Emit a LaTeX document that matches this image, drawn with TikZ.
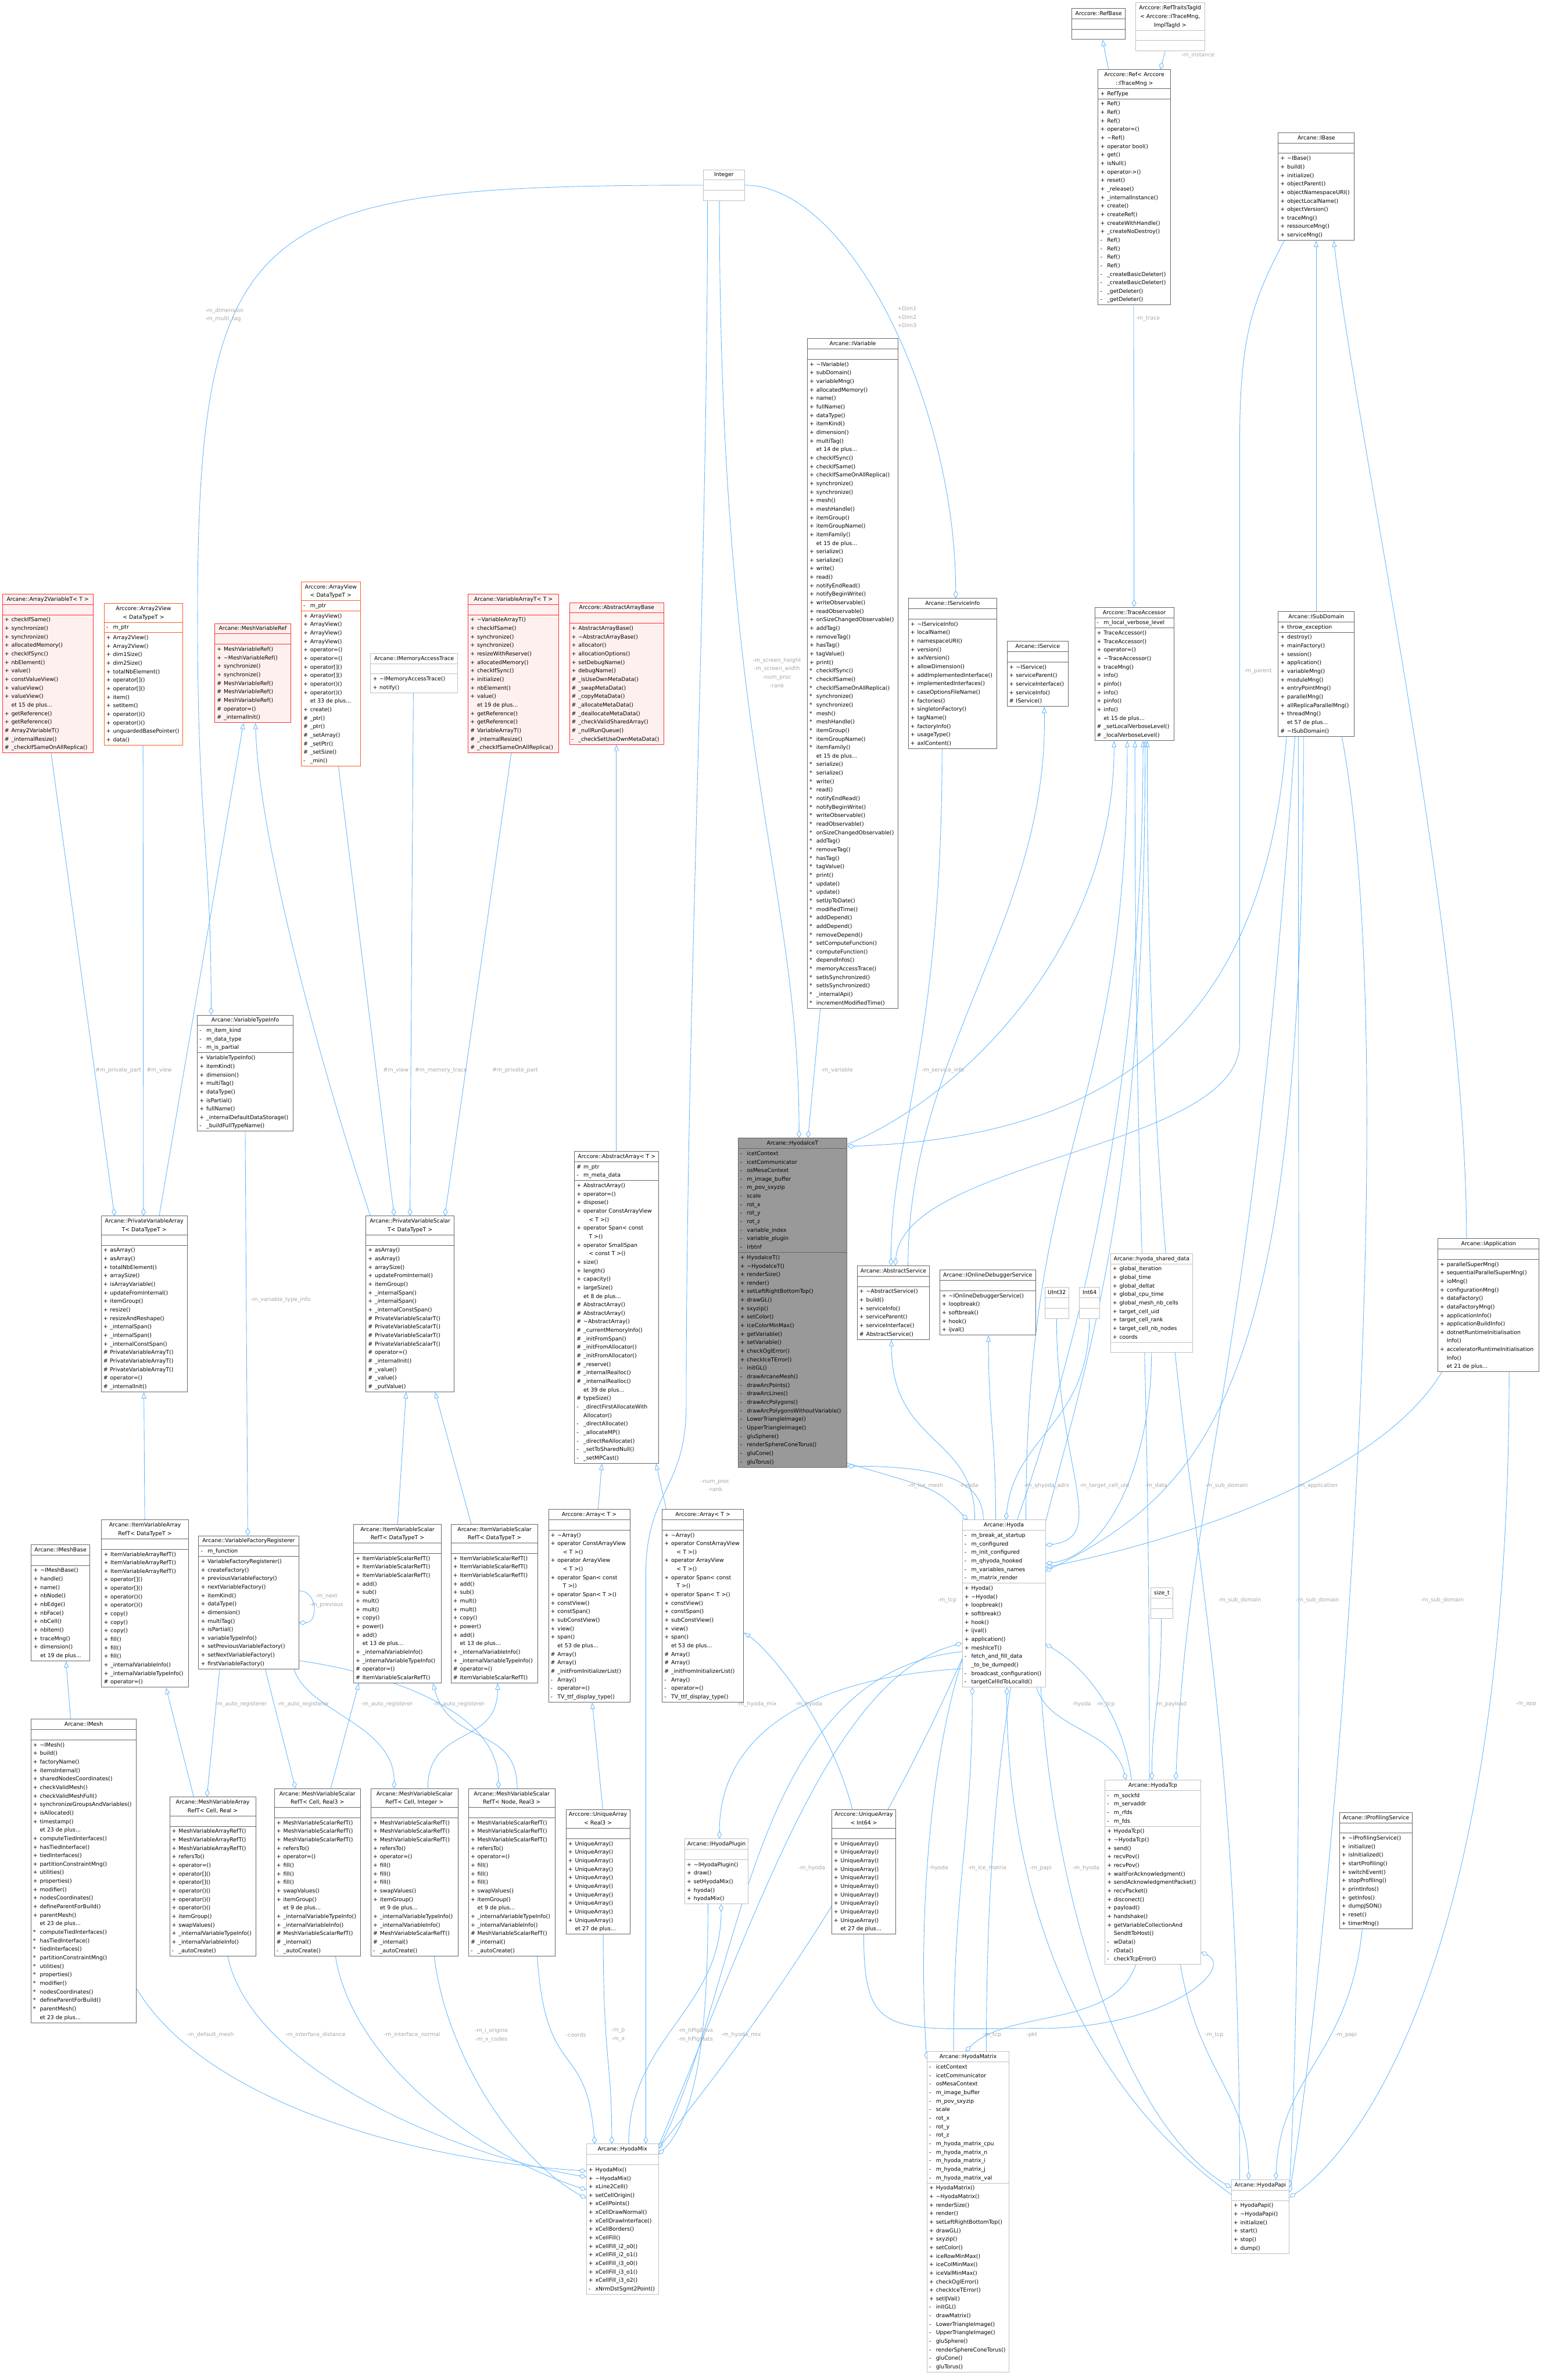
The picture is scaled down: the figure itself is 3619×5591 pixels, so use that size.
\documentclass[tikz,border=0pt]{standalone}
\usepackage{fontspec}
\setmainfont{DejaVu Sans}
\usetikzlibrary{shapes.multipart,arrows.meta}
\pgfdeclarelayer{back}
\pgfdeclarelayer{bg}
\pgfsetlayers{back,bg,main}
\definecolor{edgec}{HTML}{63B8FF}
\definecolor{lblc}{HTML}{A6A6A6}
\definecolor{bordc}{HTML}{666666}
\definecolor{lbordc}{HTML}{BFBFBF}
\definecolor{rbordc}{HTML}{FF3030}
\definecolor{rfillc}{HTML}{FFF0F0}
\definecolor{obordc}{HTML}{FF5A1F}
\definecolor{focusc}{HTML}{999999}
\newcommand\umlfont{\fontsize{12.8pt}{20pt}\selectfont}
\newcommand\tld{\textasciitilde}
\newcommand\xP{\makebox[16pt][l]{+}&}
\newcommand\xM{\makebox[16pt][l]{-}&}
\newcommand\xH{\makebox[16pt][l]{\#}&}
\newcommand\xS{\makebox[16pt][l]{*}&}
\newcommand\xE{&}
\newcommand\ttl[1]{\begin{tabular}{@{}c@{}}#1\end{tabular}}
\newcommand\mls[1]{\if\relax\detokenize{#1}\relax\strut\else\begin{tabular}{@{}l@{}l@{}}#1\end{tabular}\fi}
\newcommand\umlbox[8][]{\node[uml,#1,minimum width=#5pt] (#2) at (#3,#4) {\ttl{#6}\nodepart{two}\mls{#7}\nodepart{three}\mls{#8}};}
\newcommand\ivsM{\xP ItemVariableScalarRefT()\\ \xP ItemVariableScalarRefT()\\ \xP ItemVariableScalarRefT()\\ \xP add()\\ \xP sub()\\ \xP mult()\\ \xP mult()\\ \xP copy()\\ \xP power()\\ \xP add()\\ \xE et 13 de plus...\\ \xP \_internalVariableInfo()\\ \xP \_internalVariableTypeInfo()\\ \xH operator=()\\ \xH ItemVariableScalarRefT()}
\newcommand\arrM[1]{\xP\tld Array()\\ \xP operator ConstArrayView\\ \xE \quad< T >()\\ \xP operator ArrayView\\ \xE \quad< T >()\\ \xP operator Span< const\\ \xE \quad T >()\\ \xP operator Span< T >()\\ \xP constView()\\ \xP constSpan()\\ \xP subConstView()\\ \xP view()\\ \xP span()\\ \xE et 53 de plus...\\ \xH Array()\\ \xH Array()\\ \xH \_initFromInitializerList()\\ \xM Array()\\ \xM operator=()\\ \xM TV\_ttf\_display\_type()}
\newcommand\uaM{\xP UniqueArray()\\ \xP UniqueArray()\\ \xP UniqueArray()\\ \xP UniqueArray()\\ \xP UniqueArray()\\ \xP UniqueArray()\\ \xP UniqueArray()\\ \xP UniqueArray()\\ \xP UniqueArray()\\ \xP UniqueArray()\\ \xE et 27 de plus...}
\newcommand\mvsM{\xP MeshVariableScalarRefT()\\ \xP MeshVariableScalarRefT()\\ \xP MeshVariableScalarRefT()\\ \xP refersTo()\\ \xP operator=()\\ \xP fill()\\ \xP fill()\\ \xP fill()\\ \xP swapValues()\\ \xP itemGroup()\\ \xE et 9 de plus...\\ \xP \_internalVariableTypeInfo()\\ \xP \_internalVariableInfo()\\ \xH MeshVariableScalarRefT()\\ \xH \_internal()\\ \xM \_autoCreate()}
\tikzset{
 uml/.style={rectangle split, rectangle split parts=3, rectangle split part align={center,left,left}, draw=bordc, fill=white, line width=1.3pt, anchor=north west, inner xsep=5pt, inner ysep=1.5pt, font=\umlfont, text=black},
 lite/.style={draw=lbordc},
 trunc/.style={draw=rbordc, fill=rfillc},
 orng/.style={draw=obordc},
 focus/.style={fill=focusc},
 edg/.style={draw=edgec, line width=1.2pt},
 inh/.style={edg, -{Triangle[open, length=15pt, width=11pt]}},
 agg/.style={edg, -{Diamond[open, length=18pt, width=11pt]}},
 lbl/.style={font=\umlfont, text=lblc, inner sep=0pt, align=center},
}
\begin{document}
\begin{tikzpicture}[x=1pt,y=-1pt]
\begin{pgfonlayer}{back}
\fill[white] (0,0) rectangle (3619,5591);
\end{pgfonlayer}
\useasboundingbox (0,0) rectangle (3619,5591);

% ---------------- boxes ----------------
\umlbox[lite]{integer}{1652}{398}{96}{Integer}{}{}
\umlbox{refbase}{2517}{19}{126}{Arccore::RefBase}{}{}
\umlbox[lite]{reftraits}{2667}{6}{162}{Arccore::RefTraitsTagId\\< Arccore::ITraceMng,\\ImplTagId >}{}{}
\umlbox{ref}{2579}{163}{170}{Arccore::Ref< Arccore\\::ITraceMng >}{\xP RefType}{\xP Ref()\\ \xP Ref()\\ \xP Ref()\\ \xP operator=()\\ \xP\tld Ref()\\ \xP operator bool()\\ \xP get()\\ \xP isNull()\\ \xP operator->()\\ \xP reset()\\ \xP \_release()\\ \xP \_internalInstance()\\ \xP create()\\ \xP createRef()\\ \xP createWithHandle()\\ \xP \_createNoDestroy()\\ \xM Ref()\\ \xM Ref()\\ \xM Ref()\\ \xM Ref()\\ \xM \_createBasicDeleter()\\ \xM \_createBasicDeleter()\\ \xM \_getDeleter()\\ \xM \_getDeleter()}
\umlbox{ibase}{3002}{311}{179}{Arcane::IBase}{}{\xP\tld IBase()\\ \xP build()\\ \xP initialize()\\ \xP objectParent()\\ \xP objectNamespaceURI()\\ \xP objectLocalName()\\ \xP objectVersion()\\ \xP traceMng()\\ \xP ressourceMng()\\ \xP serviceMng()}
\umlbox{ivar}{1896}{795}{213}{Arcane::IVariable}{}{\xP\tld IVariable()\\ \xP subDomain()\\ \xP variableMng()\\ \xP allocatedMemory()\\ \xP name()\\ \xP fullName()\\ \xP dataType()\\ \xP itemKind()\\ \xP dimension()\\ \xP multiTag()\\ \xE et 14 de plus...\\ \xP checkIfSync()\\ \xP checkIfSame()\\ \xP checkIfSameOnAllReplica()\\ \xP synchronize()\\ \xP synchronize()\\ \xP mesh()\\ \xP meshHandle()\\ \xP itemGroup()\\ \xP itemGroupName()\\ \xP itemFamily()\\ \xE et 15 de plus...\\ \xP serialize()\\ \xP serialize()\\ \xP write()\\ \xP read()\\ \xP notifyEndRead()\\ \xP notifyBeginWrite()\\ \xP writeObservable()\\ \xP readObservable()\\ \xP onSizeChangedObservable()\\ \xP addTag()\\ \xP removeTag()\\ \xP hasTag()\\ \xP tagValue()\\ \xP print()\\ \xS checkIfSync()\\ \xS checkIfSame()\\ \xS checkIfSameOnAllReplica()\\ \xS synchronize()\\ \xS synchronize()\\ \xS mesh()\\ \xS meshHandle()\\ \xS itemGroup()\\ \xS itemGroupName()\\ \xS itemFamily()\\ \xE et 15 de plus...\\ \xS serialize()\\ \xS serialize()\\ \xS write()\\ \xS read()\\ \xS notifyEndRead()\\ \xS notifyBeginWrite()\\ \xS writeObservable()\\ \xS readObservable()\\ \xS onSizeChangedObservable()\\ \xS addTag()\\ \xS removeTag()\\ \xS hasTag()\\ \xS tagValue()\\ \xS print()\\ \xS update()\\ \xS update()\\ \xS setUpToDate()\\ \xS modifiedTime()\\ \xS addDepend()\\ \xS addDepend()\\ \xS removeDepend()\\ \xS setComputeFunction()\\ \xS computeFunction()\\ \xS dependInfos()\\ \xS memoryAccessTrace()\\ \xS setIsSynchronized()\\ \xS setIsSynchronized()\\ \xS \_internalApi()\\ \xS incrementModifiedTime()}
\umlbox{iserviceinfo}{2133}{1405}{208}{Arcane::IServiceInfo}{}{\xP\tld IServiceInfo()\\ \xP localName()\\ \xP namespaceURI()\\ \xP version()\\ \xP axlVersion()\\ \xP allowDimension()\\ \xP addImplementedInterface()\\ \xP implementedInterfaces()\\ \xP caseOptionsFileName()\\ \xP factories()\\ \xP singletonFactory()\\ \xP tagName()\\ \xP factoryInfo()\\ \xP usageType()\\ \xP axlContent()}
\umlbox{iservice}{2365}{1506}{144}{Arcane::IService}{}{\xP\tld IService()\\ \xP serviceParent()\\ \xP serviceInterface()\\ \xP serviceInfo()\\ \xH IService()}
\umlbox{traceacc}{2571}{1426}{186}{Arccore::TraceAccessor}{\xM m\_local\_verbose\_level}{\xP TraceAccessor()\\ \xP TraceAccessor()\\ \xP operator=()\\ \xP\tld TraceAccessor()\\ \xP traceMng()\\ \xP info()\\ \xP pinfo()\\ \xP info()\\ \xP pinfo()\\ \xP info()\\ \xE et 15 de plus...\\ \xH \_setLocalVerboseLevel()\\ \xH \_localVerboseLevel()}
\umlbox{isubdomain}{3002}{1436}{179}{Arcane::ISubDomain}{\xP throw\_exception}{\xP destroy()\\ \xP mainFactory()\\ \xP session()\\ \xP application()\\ \xP variableMng()\\ \xP moduleMng()\\ \xP entryPointMng()\\ \xP parallelMng()\\ \xP allReplicaParallelMng()\\ \xP threadMng()\\ \xE et 57 de plus...\\ \xH\tld ISubDomain()}

\umlbox[trunc]{a2var}{5}{1395}{213}{Arcane::Array2VariableT< T >}{}{\xP checkIfSame()\\ \xP synchronize()\\ \xP synchronize()\\ \xP allocatedMemory()\\ \xP checkIfSync()\\ \xP nbElement()\\ \xP value()\\ \xP constValueView()\\ \xP valueView()\\ \xP valueView()\\ \xE et 15 de plus...\\ \xP getReference()\\ \xP getReference()\\ \xH Array2VariableT()\\ \xH \_internalResize()\\ \xH \_checkIfSameOnAllReplica()}
\umlbox[orng]{a2view}{244}{1417}{185}{Arccore::Array2View\\< DataTypeT >}{\xM m\_ptr}{\xP Array2View()\\ \xP Array2View()\\ \xP dim1Size()\\ \xP dim2Size()\\ \xP totalNbElement()\\ \xP operator[]()\\ \xP operator[]()\\ \xP item()\\ \xP setItem()\\ \xP operator()()\\ \xP operator()()\\ \xP unguardedBasePointer()\\ \xP data()}
\umlbox[trunc]{meshvarref}{504}{1464}{178}{Arcane::MeshVariableRef}{}{\xP MeshVariableRef()\\ \xP\tld MeshVariableRef()\\ \xP synchronize()\\ \xP synchronize()\\ \xH MeshVariableRef()\\ \xH MeshVariableRef()\\ \xH MeshVariableRef()\\ \xH operator=()\\ \xH \_internalInit()}
\umlbox[orng]{arrayview}{707}{1366}{139}{Arccore::ArrayView\\< DataTypeT >}{\xM m\_ptr}{\xP ArrayView()\\ \xP ArrayView()\\ \xP ArrayView()\\ \xP ArrayView()\\ \xP operator=()\\ \xP operator=()\\ \xP operator[]()\\ \xP operator[]()\\ \xP operator()()\\ \xP operator()()\\ \xE et 33 de plus...\\ \xP create()\\ \xH \_ptr()\\ \xH \_ptr()\\ \xH \_setArray()\\ \xH \_setPtr()\\ \xH \_setSize()\\ \xM \_min()}
\umlbox[lite]{imemtrace}{870}{1534}{204}{Arcane::IMemoryAccessTrace}{}{\xP\tld IMemoryAccessTrace()\\ \xP notify()}
\umlbox[trunc]{vararrayt}{1099}{1395}{213}{Arcane::VariableArrayT< T >}{}{\xP\tld VariableArrayT()\\ \xP checkIfSame()\\ \xP synchronize()\\ \xP synchronize()\\ \xP resizeWithReserve()\\ \xP allocatedMemory()\\ \xP checkIfSync()\\ \xP initialize()\\ \xP nbElement()\\ \xP value()\\ \xE et 19 de plus...\\ \xP getReference()\\ \xP getReference()\\ \xH VariableArrayT()\\ \xH \_internalResize()\\ \xH \_checkIfSameOnAllReplica()}
\umlbox[trunc]{absarraybase}{1337}{1415}{222}{Arccore::AbstractArrayBase}{}{\xP AbstractArrayBase()\\ \xP\tld AbstractArrayBase()\\ \xP allocator()\\ \xP allocationOptions()\\ \xP setDebugName()\\ \xP debugName()\\ \xH \_isUseOwnMetaData()\\ \xH \_swapMetaData()\\ \xH \_copyMetaData()\\ \xH \_allocateMetaData()\\ \xH \_deallocateMetaData()\\ \xH \_checkValidSharedArray()\\ \xH \_nullRunQueue()\\ \xM \_checkSetUseOwnMetaData()}

\umlbox{vartypeinfo}{463}{2384}{225}{Arcane::VariableTypeInfo}{\xM m\_item\_kind\\ \xM m\_data\_type\\ \xM m\_is\_partial}{\xP VariableTypeInfo()\\ \xP itemKind()\\ \xP dimension()\\ \xP multiTag()\\ \xP dataType()\\ \xP isPartial()\\ \xP fullName()\\ \xP \_internalDefaultDataStorage()\\ \xM \_buildFullTypeName()}
\umlbox{pvarray}{237}{2856}{202}{Arcane::PrivateVariableArray\\T< DataTypeT >}{}{\xP asArray()\\ \xP asArray()\\ \xP totalNbElement()\\ \xP arraySize()\\ \xP isArrayVariable()\\ \xP updateFromInternal()\\ \xP itemGroup()\\ \xP resize()\\ \xP resizeAndReshape()\\ \xP \_internalSpan()\\ \xP \_internalSpan()\\ \xP \_internalConstSpan()\\ \xH PrivateVariableArrayT()\\ \xH PrivateVariableArrayT()\\ \xH PrivateVariableArrayT()\\ \xH operator=()\\ \xH \_internalInit()}
\umlbox{pvscalar}{859}{2856}{207}{Arcane::PrivateVariableScalar\\T< DataTypeT >}{}{\xP asArray()\\ \xP asArray()\\ \xP arraySize()\\ \xP updateFromInternal()\\ \xP itemGroup()\\ \xP \_internalSpan()\\ \xP \_internalSpan()\\ \xP \_internalConstSpan()\\ \xH PrivateVariableScalarT()\\ \xH PrivateVariableScalarT()\\ \xH PrivateVariableScalarT()\\ \xH PrivateVariableScalarT()\\ \xH operator=()\\ \xH \_internalInit()\\ \xH \_value()\\ \xH \_value()\\ \xH \_putValue()}
\umlbox{absarray}{1349}{2704}{198}{Arccore::AbstractArray< T >}{\xH m\_ptr\\ \xM m\_meta\_data}{\xP AbstractArray()\\ \xP operator=()\\ \xP dispose()\\ \xP operator ConstArrayView\\ \xE \quad< T >()\\ \xP operator Span< const\\ \xE \quad T >()\\ \xP operator SmallSpan\\ \xE \quad< const T >()\\ \xP size()\\ \xP length()\\ \xP capacity()\\ \xP largeSize()\\ \xE et 8 de plus...\\ \xH AbstractArray()\\ \xH AbstractArray()\\ \xH\tld AbstractArray()\\ \xH \_currentMemoryInfo()\\ \xH \_initFromSpan()\\ \xH \_initFromAllocator()\\ \xH \_initFromAllocator()\\ \xH \_reserve()\\ \xH \_internalRealloc()\\ \xH \_internalRealloc()\\ \xE et 39 de plus...\\ \xH typeSize()\\ \xM \_directFirstAllocateWith\\ \xE Allocator()\\ \xM \_directAllocate()\\ \xM \_allocateMP()\\ \xM \_directReAllocate()\\ \xM \_setToSharedNull()\\ \xM \_setMPCast()}
\umlbox[focus]{hyodaicet}{1733}{2673}{256}{Arcane::HyodaIceT}{\xM icetContext\\ \xM icetCommunicator\\ \xM osMesaContext\\ \xM m\_image\_buffer\\ \xM m\_pov\_sxyzip\\ \xM scale\\ \xM rot\_x\\ \xM rot\_y\\ \xM rot\_z\\ \xM variable\_index\\ \xM variable\_plugin\\ \xM lrbtnf}{\xP HyodaIceT()\\ \xP\tld HyodaIceT()\\ \xP renderSize()\\ \xP render()\\ \xP setLeftRightBottomTop()\\ \xP drawGL()\\ \xP sxyzip()\\ \xP setColor()\\ \xP iceColorMinMax()\\ \xP getVariable()\\ \xP setVariable()\\ \xP checkOglError()\\ \xP checkIceTError()\\ \xM initGL()\\ \xM drawArcaneMesh()\\ \xM drawArcPoints()\\ \xM drawArcLines()\\ \xM drawArcPolygons()\\ \xM drawArcPolygonsWithoutVariable()\\ \xM LowerTriangleImage()\\ \xM UpperTriangleImage()\\ \xM gluSphere()\\ \xM renderSphereConeTorus()\\ \xM gluCone()\\ \xM gluTorus()}
\umlbox{abstractservice}{2013}{2973}{170}{Arcane::AbstractService}{}{\xP\tld AbstractService()\\ \xP build()\\ \xP serviceInfo()\\ \xP serviceParent()\\ \xP serviceInterface()\\ \xH AbstractService()}
\umlbox{ionlinedbg}{2207}{2983}{225}{Arcane::IOnlineDebuggerService}{}{\xP\tld IOnlineDebuggerService()\\ \xP loopbreak()\\ \xP softbreak()\\ \xP hook()\\ \xP ijval()}
\umlbox[lite]{uint32}{2454}{3024}{56}{UInt32}{}{}
\umlbox[lite]{int64}{2535}{3024}{48}{Int64}{}{}
\umlbox[lite]{hsd}{2608}{2944}{193}{Arcane::hyoda\_shared\_data}{\xP global\_iteration\\ \xP global\_time\\ \xP global\_deltat\\ \xP global\_cpu\_time\\ \xP global\_mesh\_nb\_cells\\ \xP target\_cell\_uid\\ \xP target\_cell\_rank\\ \xP target\_cell\_nb\_nodes\\ \xP coords}{}
\umlbox{iapp}{3377}{2909}{238}{Arcane::IApplication}{}{\xP parallelSuperMng()\\ \xP sequentialParallelSuperMng()\\ \xP ioMng()\\ \xP configurationMng()\\ \xP dataFactory()\\ \xP dataFactoryMng()\\ \xP applicationInfo()\\ \xP applicationBuildInfo()\\ \xP dotnetRuntimeInitialisation\\ \xE Info()\\ \xP acceleratorRuntimeInitialisation\\ \xE Info()\\ \xE et 21 de plus...}

\umlbox{imeshbase}{73}{3628}{137}{Arcane::IMeshBase}{}{\xP\tld IMeshBase()\\ \xP handle()\\ \xP name()\\ \xP nbNode()\\ \xP nbEdge()\\ \xP nbFace()\\ \xP nbCell()\\ \xP nbItem()\\ \xP traceMng()\\ \xP dimension()\\ \xE et 19 de plus...}
\umlbox{itemvararray}{238}{3570}{204}{Arcane::ItemVariableArray\\RefT< DataTypeT >}{}{\xP ItemVariableArrayRefT()\\ \xP ItemVariableArrayRefT()\\ \xP ItemVariableArrayRefT()\\ \xP operator[]()\\ \xP operator[]()\\ \xP operator()()\\ \xP operator()()\\ \xP copy()\\ \xP copy()\\ \xP copy()\\ \xP fill()\\ \xP fill()\\ \xP fill()\\ \xP \_internalVariableInfo()\\ \xP \_internalVariableTypeInfo()\\ \xH operator=()}
\umlbox{vfreg}{466}{3607}{235}{Arcane::VariableFactoryRegisterer}{\xM m\_function}{\xP VariableFactoryRegisterer()\\ \xP createFactory()\\ \xP previousVariableFactory()\\ \xP nextVariableFactory()\\ \xP itemKind()\\ \xP dataType()\\ \xP dimension()\\ \xP multiTag()\\ \xP isPartial()\\ \xP variableTypeInfo()\\ \xP setPreviousVariableFactory()\\ \xP setNextVariableFactory()\\ \xP firstVariableFactory()}
\umlbox{itemvarscal1}{830}{3580}{206}{Arcane::ItemVariableScalar\\RefT< DataTypeT >}{}{\ivsM}
\umlbox{itemvarscal2}{1059}{3580}{204}{Arcane::ItemVariableScalar\\RefT< DataTypeT >}{}{\ivsM}
\umlbox{array1}{1288}{3545}{191}{Arccore::Array< T >}{}{\arrM{}}
\umlbox{array2}{1555}{3545}{191}{Arccore::Array< T >}{}{\arrM{}}
\umlbox[lite]{hyoda}{2260}{3570}{195}{Arcane::Hyoda}{\xM m\_break\_at\_startup\\ \xM m\_configured\\ \xM m\_init\_configured\\ \xM m\_qhyoda\_hooked\\ \xM m\_variables\_names\\ \xM m\_matrix\_render}{\xP Hyoda()\\ \xP\tld Hyoda()\\ \xP loopbreak()\\ \xP softbreak()\\ \xP hook()\\ \xP ijval()\\ \xP application()\\ \xP meshIceT()\\ \xM fetch\_and\_fill\_data\\ \xE \_to\_be\_dumped()\\ \xM broadcast\_configuration()\\ \xM targetCellIdToLocalId()}
\umlbox[lite]{sizet}{2703}{3729}{51}{size\_t}{}{}
\umlbox{imesh}{72}{4038}{248}{Arcane::IMesh}{}{\xP\tld IMesh()\\ \xP build()\\ \xP factoryName()\\ \xP itemsInternal()\\ \xP sharedNodesCoordinates()\\ \xP checkValidMesh()\\ \xP checkValidMeshFull()\\ \xP synchronizeGroupsAndVariables()\\ \xP isAllocated()\\ \xP timestamp()\\ \xE et 23 de plus...\\ \xP computeTiedInterfaces()\\ \xP hasTiedInterface()\\ \xP tiedInterfaces()\\ \xP partitionConstraintMng()\\ \xP utilities()\\ \xP properties()\\ \xP modifier()\\ \xP nodesCoordinates()\\ \xP defineParentForBuild()\\ \xP parentMesh()\\ \xE et 23 de plus...\\ \xS computeTiedInterfaces()\\ \xS hasTiedInterface()\\ \xS tiedInterfaces()\\ \xS partitionConstraintMng()\\ \xS utilities()\\ \xS properties()\\ \xS modifier()\\ \xS nodesCoordinates()\\ \xS defineParentForBuild()\\ \xS parentMesh()\\ \xE et 23 de plus...}
\umlbox{mvarray}{398}{4221}{202}{Arcane::MeshVariableArray\\RefT< Cell, Real >}{}{\xP MeshVariableArrayRefT()\\ \xP MeshVariableArrayRefT()\\ \xP MeshVariableArrayRefT()\\ \xP refersTo()\\ \xP operator=()\\ \xP operator[]()\\ \xP operator[]()\\ \xP operator()()\\ \xP operator()()\\ \xP operator()()\\ \xP itemGroup()\\ \xP swapValues()\\ \xP \_internalVariableTypeInfo()\\ \xP \_internalVariableInfo()\\ \xM \_autoCreate()}
\umlbox{mvscr3}{644}{4201}{202}{Arcane::MeshVariableScalar\\RefT< Cell, Real3 >}{}{\mvsM}
\umlbox{mvsci}{871}{4201}{204}{Arcane::MeshVariableScalar\\RefT< Cell, Integer >}{}{\mvsM}
\umlbox{mvsnr3}{1100}{4201}{203}{Arcane::MeshVariableScalar\\RefT< Node, Real3 >}{}{\mvsM}
\umlbox{uareal3}{1329}{4250}{150}{Arccore::UniqueArray\\< Real3 >}{}{\uaM}
\umlbox[lite]{ihplugin}{1608}{4319}{149}{Arcane::IHyodaPlugin}{}{\xP\tld IHyodaPlugin()\\ \xP draw()\\ \xP setHyodaMix()\\ \xP hyoda()\\ \xP hyodaMix()}
\umlbox{uaint64}{1953}{4250}{151}{Arccore::UniqueArray\\< Int64 >}{}{\uaM}
\umlbox[lite]{hyodatcp}{2595}{4181}{225}{Arcane::HyodaTcp}{\xM m\_sockfd\\ \xM m\_servaddr\\ \xM m\_rfds\\ \xM m\_fds}{\xP HyodaTcp()\\ \xP\tld HyodaTcp()\\ \xP send()\\ \xP recvPov()\\ \xP recvPov()\\ \xP waitForAcknowledgment()\\ \xP sendAcknowledgmentPacket()\\ \xP recvPacket()\\ \xP disconect()\\ \xP payload()\\ \xP handshake()\\ \xP getVariableCollectionAnd\\ \xE SendItToHost()\\ \xM wData()\\ \xM rData()\\ \xM checkTcpError()}
\umlbox{iprof}{3146}{4257}{171}{Arcane::IProfilingService}{}{\xP\tld IProfilingService()\\ \xP initialize()\\ \xP isInitialized()\\ \xP startProfiling()\\ \xP switchEvent()\\ \xP stopProfiling()\\ \xP printInfos()\\ \xP getInfos()\\ \xP dumpJSON()\\ \xP reset()\\ \xP timerMng()}
\umlbox[lite]{hyodamix}{1377}{5036}{169}{Arcane::HyodaMix}{}{\xP HyodaMix()\\ \xP\tld HyodaMix()\\ \xP xLine2Cell()\\ \xP setCellOrigin()\\ \xP xCellPoints()\\ \xP xCellDrawNormal()\\ \xP xCellDrawInterface()\\ \xP xCellBorders()\\ \xP xCellFill()\\ \xP xCellFill\_i2\_o0()\\ \xP xCellFill\_i2\_o1()\\ \xP xCellFill\_i3\_o0()\\ \xP xCellFill\_i3\_o1()\\ \xP xCellFill\_i3\_o2()\\ \xM xNrmDstSgmt2Point()}
\umlbox[lite]{hyodamatrix}{2177}{4819}{193}{Arcane::HyodaMatrix}{\xM icetContext\\ \xM icetCommunicator\\ \xM osMesaContext\\ \xM m\_image\_buffer\\ \xM m\_pov\_sxyzip\\ \xM scale\\ \xM rot\_x\\ \xM rot\_y\\ \xM rot\_z\\ \xM m\_hyoda\_matrix\_cpu\\ \xM m\_hyoda\_matrix\_n\\ \xM m\_hyoda\_matrix\_i\\ \xM m\_hyoda\_matrix\_j\\ \xM m\_hyoda\_matrix\_val}{\xP HyodaMatrix()\\ \xP\tld HyodaMatrix()\\ \xP renderSize()\\ \xP render()\\ \xP setLeftRightBottomTop()\\ \xP drawGL()\\ \xP sxyzip()\\ \xP setColor()\\ \xP iceRowMinMax()\\ \xP iceColMinMax()\\ \xP iceValMinMax()\\ \xP checkOglError()\\ \xP checkIceTError()\\ \xP setIJVal()\\ \xM initGL()\\ \xM drawMatrix()\\ \xM LowerTriangleImage()\\ \xM UpperTriangleImage()\\ \xM gluSphere()\\ \xM renderSphereConeTorus()\\ \xM gluCone()\\ \xM gluTorus()}
\umlbox[lite]{hyodapapi}{2892}{5120}{136}{Arcane::HyodaPapi}{}{\xP HyodaPapi()\\ \xP\tld HyodaPapi()\\ \xP initialize()\\ \xP start()\\ \xP stop()\\ \xP dump()}

% ---------------- labels ----------------
\node[lbl,anchor=west] (l1) at (2775,130) {-m\_instance};
\node[lbl,anchor=west] (l2) at (2668,748) {-m\_trace};
\node[lbl] (l3) at (2955,1577) {-m\_parent};
\node[lbl,anchor=west] (l4) at (2165,2515) {-m\_service\_info};
\node[lbl,anchor=west,align=left] (l5) at (2108,745) {+Dim1\\+Dim2\\+Dim3};
\node[lbl,anchor=west,align=left] (l6) at (482,740) {-m\_dimension\\-m\_multi\_tag};
\node[lbl] (l7) at (1825,1580) {-m\_screen\_height\\-m\_screen\_width\\-num\_proc\\-rank};
\node[lbl] (l8) at (1966,2515) {-m\_variable};
\node[lbl] (l9) at (1680,3490) {-num\_proc\\-rank};
\node[lbl] (l10) at (278,2515) {\#m\_private\_part};
\node[lbl] (l11) at (374,2515) {\#m\_view};
\node[lbl] (l12) at (930,2515) {\#m\_view};
\node[lbl] (l13) at (1036,2515) {\#m\_memory\_trace};
\node[lbl] (l14) at (1210,2515) {\#m\_private\_part};
\node[lbl] (l15) at (659,3054) {-m\_variable\_type\_info};
\node[lbl] (l16) at (566,4004) {-m\_auto\_registerer};
\node[lbl] (l17) at (712,4004) {-m\_auto\_registerer};
\node[lbl] (l18) at (909,4004) {-m\_auto\_registerer};
\node[lbl] (l19) at (1078,4004) {-m\_auto\_registerer};
\node[lbl] (l20) at (767,3760) {-m\_next\\-m\_previous};
\node[lbl] (l21) at (494,4780) {-m\_default\_mesh};
\node[lbl] (l22) at (741,4780) {-m\_interface\_distance};
\node[lbl] (l23) at (968,4780) {-m\_interface\_normal};
\node[lbl] (l24) at (1154,4781) {-m\_i\_origine\\-m\_x\_codes};
\node[lbl] (l25) at (1353,4780) {-coords};
\node[lbl] (l26) at (1452,4781) {-m\_p\\-m\_x};
\node[lbl] (l27) at (1634,4781) {-m\_hPlgEnvs\\-m\_hPlgMats};
\node[lbl] (l28) at (1741,4780) {-m\_hyoda\_mix};
\node[lbl] (l29) at (1778,4004) {-m\_hyoda\_mix};
\node[lbl] (l30) at (1900,4004) {-m\_hyoda};
\node[lbl] (l31) at (1907,4389) {-m\_hyoda};
\node[lbl] (l32) at (2174,3490) {-m\_ice\_mesh};
\node[lbl] (l33) at (2276,3490) {-hyoda};
\node[lbl] (l34) at (2459,3490) {-m\_qhyoda\_adrs};
\node[lbl] (l35) at (2594,3490) {-m\_target\_cell\_uid};
\node[lbl] (l36) at (2716,3490) {-m\_data};
\node[lbl] (l37) at (2881,3490) {-m\_sub\_domain};
\node[lbl] (l38) at (3095,3490) {-m\_application};
\node[lbl] (l39) at (2225,3759) {-m\_tcp};
\node[lbl] (l40) at (2912,3759) {-m\_sub\_domain};
\node[lbl] (l41) at (3095,3759) {-m\_sub\_domain};
\node[lbl] (l42) at (3388,3759) {-m\_sub\_domain};
\node[lbl] (l43) at (2541,4004) {-hyoda};
\node[lbl] (l44) at (2597,4004) {-m\_tcp};
\node[lbl,anchor=west] (l45) at (2713,4004) {-m\_payload};
\node[lbl] (l46) at (3585,4004) {-m\_app};
\node[lbl] (l47) at (2205,4388) {-hyoda};
\node[lbl] (l48) at (2319,4388) {-m\_ice\_matrix};
\node[lbl] (l49) at (2445,4388) {-m\_papi};
\node[lbl] (l50) at (2551,4388) {-m\_hyoda};
\node[lbl] (l51) at (2330,4780) {-m\_tcp};
\node[lbl] (l52) at (2424,4780) {-pkt};
\node[lbl] (l53) at (2852,4780) {-m\_tcp};
\node[lbl] (l54) at (3162,4780) {-m\_papi};

% ---------------- connectors ----------------
\coordinate (pc1) at (2912,1050);
\coordinate (pc2) at (2912,2450);
\coordinate (dc) at (464,1450);
\coordinate (ia) at (1612,3300);
\coordinate (ib) at (1517,3700);
\coordinate (pk) at (2440,4765);
\begin{pgfonlayer}{bg}
% top right
\draw[inh] ([xshift=25pt]ref.north west) -- ([xshift=73pt]refbase.south west);
\draw[agg] ([xshift=70pt]reftraits.south west) -- ([xshift=147pt]ref.north west);
\draw[agg] ([xshift=84pt]ref.south west) -- ([xshift=93pt]traceacc.north west);
\draw[inh] ([xshift=90pt]isubdomain.north west) -- ([xshift=90pt]ibase.south west);
\draw[inh] ([xshift=68pt]iapp.north west) .. controls +(0,-700) and +(60,500) .. ([xshift=131pt]ibase.south west);
\draw[agg] ([xshift=15pt]ibase.south west) .. controls +(-80,150) and +(0,-250) .. (pc1) -- (pc2) .. controls +(0,250) and +(20,-250) .. ([xshift=90pt]abstractservice.north west);
\draw[agg] ([xshift=80pt]iserviceinfo.south west) .. controls +(0,700) and +(0,-300) .. ([xshift=80pt]abstractservice.north west);
\draw[agg] (integer.east) .. controls +(250,0) and +(0,-450) .. ([xshift=112pt]iserviceinfo.north west);
\draw[agg] (integer.west) .. controls +(-1050,0) and +(0,-950) .. (dc) .. controls +(0,500) and +(0,-400) .. ([xshift=33pt]vartypeinfo.north west);
\draw[agg] ([xshift=38pt]integer.south west) .. controls +(0,1300) and +(0,-600) .. ([xshift=144pt]hyodaicet.north west);
\draw[agg] ([xshift=31pt]ivar.south west) -- ([xshift=165pt]hyodaicet.north west);
\draw[agg] ([xshift=10pt]integer.south west) .. controls +(0,900) and +(0,-900) .. (ia) .. controls +(0,200) and +(0,-200) .. (ib) -- ([xshift=140pt]hyodamix.north west);
% left variable hierarchy
\draw[inh] ([xshift=137pt]pvarray.north west) -- ([xshift=68pt]meshvarref.south west);
\draw[inh] ([xshift=11pt]pvscalar.north west) .. controls +(-100,-300) and +(10,300) .. ([xshift=96pt]meshvarref.south west);
\draw[agg] ([xshift=115pt]a2var.south west) -- ([xshift=32pt]pvarray.north west);
\draw[agg] ([xshift=92pt]a2view.south west) -- ([xshift=100pt]pvarray.north west);
\draw[agg] ([xshift=88pt]arrayview.south west) -- ([xshift=67pt]pvscalar.north west);
\draw[agg] ([xshift=101pt]imemtrace.south west) -- ([xshift=104pt]pvscalar.north west);
\draw[agg] ([xshift=102pt]vararrayt.south west) -- ([xshift=186pt]pvscalar.north west);
\draw[agg] ([xshift=113pt]vartypeinfo.south west) -- ([xshift=116pt]vfreg.north west);
\draw[inh] ([xshift=102pt]itemvararray.north west) -- ([xshift=101pt]pvarray.south west);
\draw[inh] ([xshift=104pt]itemvarscal1.north west) -- ([xshift=95pt]pvscalar.south west);
\draw[inh] ([xshift=48pt]itemvarscal2.north west) -- ([xshift=163pt]pvscalar.south west);
\draw[inh] ([xshift=57pt]mvarray.north west) -- ([xshift=152pt]itemvararray.south west);
\draw[inh] ([xshift=133pt]mvscr3.north west) -- ([xshift=13pt]itemvarscal1.south west);
\draw[inh] ([xshift=115pt]mvsnr3.north west) .. controls +(0,-150) and +(40,150) .. ([xshift=187pt]itemvarscal1.south west);
\draw[inh] ([xshift=134pt]mvsci.north west) .. controls +(0,-150) and +(0,150) .. ([xshift=110pt]itemvarscal2.south west);
\draw[agg] ([xshift=50pt]vfreg.south west) -- ([xshift=88pt]mvarray.north west);
\draw[agg] ([xshift=157pt]vfreg.south west) -- ([xshift=50pt]mvscr3.north west);
\draw[agg] ([xshift=225pt]vfreg.south west) .. controls +(30,100) and +(0,-150) .. ([xshift=55pt]mvsci.north west);
\draw[agg] ([yshift=20pt]vfreg.south east) .. controls +(150,20) and +(0,-200) .. ([xshift=71pt]mvsnr3.north west);
\draw[agg] ([yshift=-130pt]vfreg.north east) .. controls +(45,0) and +(45,0) .. ([yshift=-205pt]vfreg.north east);
\draw[inh] ([xshift=94pt]imesh.north west) -- ([xshift=82pt]imeshbase.south west);
\draw[inh] ([xshift=99pt]absarray.north west) -- ([xshift=111pt]absarraybase.south west);
\draw[inh] ([xshift=117pt]array1.north west) -- ([xshift=65pt]absarray.south west);
\draw[inh] ([xshift=10pt]array2.north west) -- ([xshift=192pt]absarray.south west);
\draw[inh] ([xshift=87pt]uareal3.north west) -- ([xshift=103pt]array1.south west);
\draw[inh] ([xshift=49pt]uaint64.north west) .. controls +(-50,-200) and +(60,40) .. ([yshift=-290pt]array2.north east);
% hyoda inheritance
\draw[inh] ([xshift=79pt]hyoda.north west) .. controls +(0,-200) and +(0,200) .. ([xshift=115pt]ionlinedbg.south west);
\draw[inh] ([xshift=30pt]hyoda.north west) .. controls +(0,-200) and +(0,250) .. ([xshift=81pt]abstractservice.south west);
\draw[inh] ([xshift=120pt]abstractservice.north west) .. controls +(0,-500) and +(10,500) .. ([xshift=88pt]iservice.south west);
\draw[inh] ([yshift=-15pt]hyodaicet.north east) .. controls +(250,-100) and +(0,500) .. ([xshift=46pt]traceacc.south west);
\draw[inh] ([xshift=150pt]hyoda.north west) .. controls +(0,-900) and +(0,900) .. ([xshift=77pt]traceacc.south west);
\draw[inh] ([xshift=105pt]hyodatcp.north west) .. controls +(0,-1200) and +(0,1200) .. ([xshift=95pt]traceacc.south west);
\draw[inh] ([yshift=-10pt]hyodamix.north east) .. controls +(400,-500) and +(0,1800) .. ([xshift=114pt]traceacc.south west);
\draw[inh] ([xshift=140pt]hyodamatrix.north west) .. controls +(0,-1500) and +(0,1800) .. ([xshift=119pt]traceacc.south west);
\draw[inh] ([xshift=20pt]hyodapapi.north west) .. controls +(0,-1500) and +(0,1800) .. ([xshift=124pt]traceacc.south west);
% hyoda aggregations
\draw[agg] ([yshift=10pt]hyodaicet.south east) .. controls +(200,60) and +(-80,-80) .. ([xshift=13pt]hyoda.north west);
\draw[agg] ([xshift=50pt]hyoda.north west) .. controls +(0,-100) and +(200,0) .. ([yshift=3pt]hyodaicet.south east);
\draw[agg] ([xshift=24pt]int64.south west) .. controls +(0,250) and +(20,-200) .. ([xshift=103pt]hyoda.north west);
\draw[agg] ([xshift=28pt]uint32.south west) .. controls +(0,350) and +(150,-20) .. ([yshift=-60pt]hyoda.north east);
\draw[agg] ([xshift=97pt]hsd.south west) .. controls +(0,250) and +(150,-20) .. ([yshift=-103pt]hyoda.north east);
\draw[agg] ([xshift=60pt]isubdomain.south west) .. controls +(0,1500) and +(400,-200) .. ([yshift=-121pt]hyoda.north east);
\draw[agg] ([xshift=10pt]iapp.south west) .. controls +(-150,250) and +(300,-60) .. ([yshift=-112pt]hyoda.north east);
\draw[agg] ([xshift=63pt]hyodatcp.north west) .. controls +(-20,-150) and +(100,60) .. ([yshift=-292pt]hyoda.north east);
\draw[agg] ([xshift=175pt]hyoda.south west) .. controls +(30,100) and +(-30,-120) .. ([xshift=50pt]hyodatcp.north west);
\draw[agg] ([xshift=25pt]sizet.south west) .. controls +(0,200) and +(0,-150) .. ([xshift=111pt]hyodatcp.north west);
\draw[agg] ([xshift=40pt]isubdomain.south west) .. controls +(-100,1500) and +(30,-700) .. ([xshift=167pt]hyodatcp.north west);
\draw[agg] ([xshift=48pt]isubdomain.south west) .. controls +(0,2000) and +(30,-600) .. ([yshift=-19pt]hyodapapi.north east);
\draw[agg] ([xshift=150pt]isubdomain.south west) .. controls +(150,800) and +(100,-600) .. ([yshift=-30pt]hyodapapi.north east);
\draw[agg] ([xshift=168pt]iapp.south west) .. controls +(0,1400) and +(150,-100) .. ([yshift=-42pt]hyodapapi.north east);
\draw[agg] ([xshift=20pt]isubdomain.south west) .. controls +(-50,700) and +(600,-20) .. ([yshift=-20pt]hyodaicet.north east);
\draw[agg] ([xshift=54pt]iprof.south west) .. controls +(-30,300) and +(10,-250) .. ([xshift=105pt]hyodapapi.north west);
\draw[agg] ([xshift=178pt]hyodatcp.south west) .. controls +(40,250) and +(0,-200) .. ([xshift=41pt]hyodapapi.north west);
\draw[agg] ([xshift=185pt]hyoda.south west) .. controls +(30,500) and +(-250,-150) .. ([yshift=-19pt]hyodapapi.north west);
\draw[agg] ([yshift=-35pt]hyodapapi.north west) .. controls +(-350,-250) and +(0,500) .. ([xshift=105pt]hyoda.south west);
\draw[agg] ([xshift=63pt]hyodamatrix.north west) .. controls +(0,-400) and +(0,350) .. ([xshift=24pt]hyoda.south west);
\draw[agg] ([yshift=-330pt]hyoda.north west) .. controls +(-80,250) and +(-20,-300) .. ([yshift=-18pt]hyodamatrix.north west);
\draw[agg] ([xshift=73pt]hyodatcp.south west) .. controls +(-50,150) and +(100,-100) .. ([xshift=91pt]hyodamatrix.north west);
\draw[agg] ([xshift=76pt]uaint64.south west) .. controls +(0,250) and +(-350,0) .. (pk) .. controls +(300,0) and +(80,40) .. ([yshift=30pt]hyodatcp.south east);
\draw[agg] ([yshift=-350pt]hyoda.north west) .. controls +(-350,20) and +(0,-250) .. ([xshift=82pt]ihplugin.north west);
\draw[agg] ([xshift=100pt]hyodamix.north west) .. controls +(0,-250) and +(0,250) .. ([xshift=86pt]ihplugin.south west);
\draw[agg] ([xshift=55pt]ihplugin.south west) .. controls +(0,250) and +(100,-100) .. ([yshift=-25pt]hyodamix.north east);
\draw[agg] ([yshift=-310pt]hyoda.north west) .. controls +(-500,50) and +(200,-400) .. ([yshift=-12pt]hyodamix.north east);
\draw[agg] ([yshift=-5pt]hyodamix.north east) .. controls +(250,-600) and +(-300,80) .. ([yshift=-290pt]hyoda.north west);
% hyodamix members
\draw[agg] ([yshift=80pt]imesh.south east) .. controls +(150,250) and +(-450,-30) .. ([yshift=-64pt]hyodamix.north west);
\draw[agg] ([xshift=137pt]mvarray.south west) .. controls +(50,250) and +(-350,-60) .. ([yshift=-78pt]hyodamix.north west);
\draw[agg] ([xshift=144pt]mvscr3.south west) .. controls +(40,250) and +(-250,-80) .. ([yshift=-108pt]hyodamix.north west);
\draw[agg] ([xshift=149pt]mvsci.south west) .. controls +(30,250) and +(-150,-80) .. ([yshift=-128pt]hyodamix.north west);
\draw[agg] ([xshift=162pt]mvsnr3.south west) .. controls +(20,300) and +(-20,-250) .. ([xshift=20pt]hyodamix.north west);
\draw[agg] ([xshift=88pt]uareal3.south west) .. controls +(0,300) and +(0,-200) .. ([xshift=60pt]hyodamix.north west);
\end{pgfonlayer}
\end{tikzpicture}
\end{document}
